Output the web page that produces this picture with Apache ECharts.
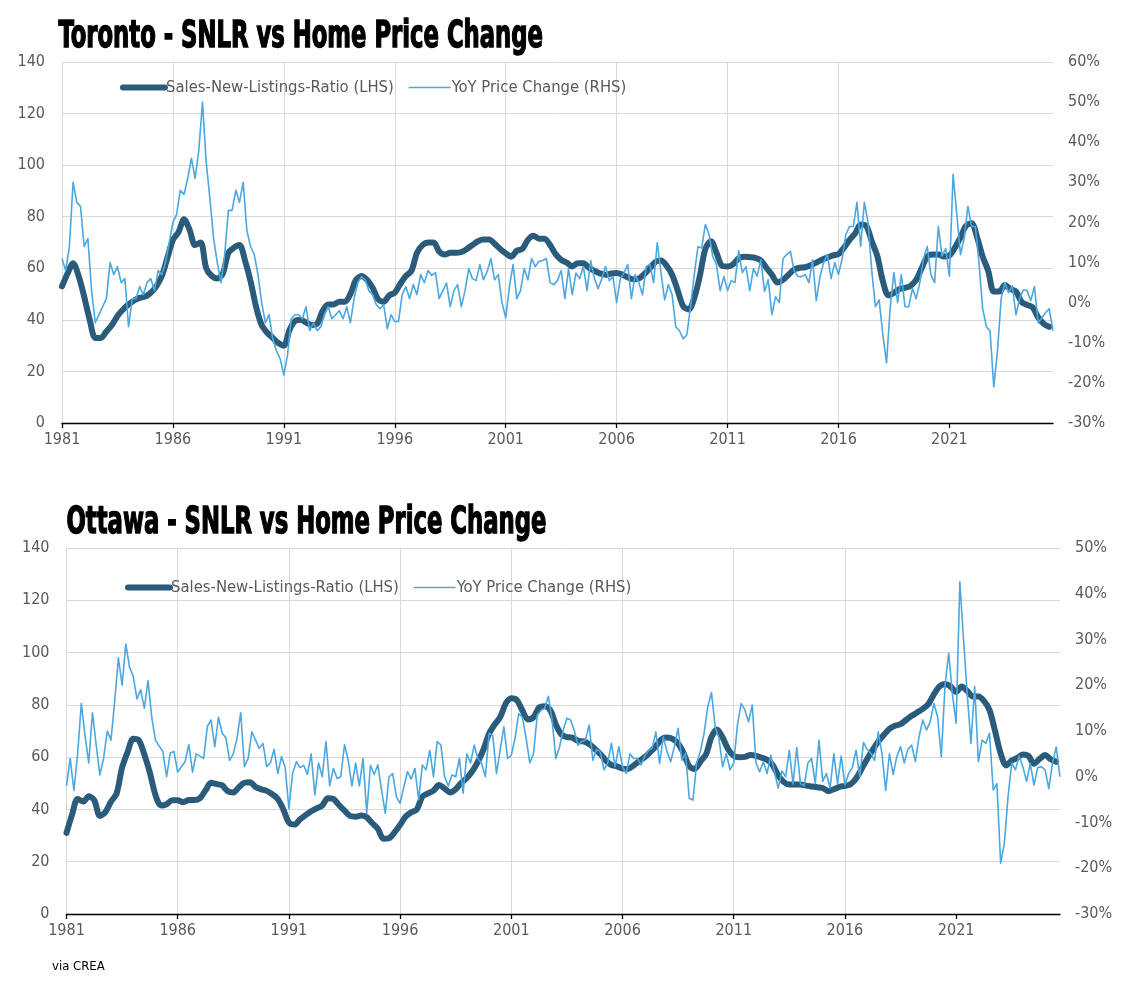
<!DOCTYPE html>
<html>
<head>
<meta charset="utf-8">
<title>SNLR vs Home Price Change</title>
<script src="https://cdn.jsdelivr.net/npm/echarts@6/dist/echarts.min.js"></script>
<style>
  html, body { margin: 0; padding: 0; background: #fff; }
  #chart { width: 1144px; height: 997px; }
</style>
</head>
<body>
<div id="chart"></div>
<script>
const startYear = 1981
const endYear = 2025.67
const yearTicks = [1981, 1986, 1991, 1996, 2001, 2006, 2011, 2016, 2021]
const snlrName = 'Sales-New-Listings-Ratio (LHS)'
const priceName = 'YoY Price Change (RHS)'

// Toronto SNLR, one value per quarter from Q1 1981
const torontoSnlr = [
  53, 58, 62, 57,  49, 40, 33, 33,  35.5, 38, 41.5, 44,  46, 47.5, 48.5, 49,
  50.5, 53, 57, 64,  71, 74, 79, 75,  69, 70, 60, 57,  56, 58, 66, 68,
  69, 63, 55, 45,  38, 35, 33, 31,  30, 36, 39.5, 40,  39, 38, 38.5, 43.5,
  46, 46, 47, 47,  50, 55.5, 57, 55.5,  52.5, 48, 47, 49.5,  50.5, 54, 57, 59,
  66, 69, 70, 70,  66.5, 65.3, 66, 66,  66.3, 67.5, 69, 70.5,  71.2, 71.2, 69.5, 67.5,
  65.8, 64.5, 66.8, 67.5,  71, 72.6, 71.5, 71.5,  69, 65.5, 63.3, 62.2,  60.7, 62, 62, 60.2,
  59, 58, 57.5, 58,  58.2, 57.6, 56.5, 55.7,  56, 57.8, 60, 62.5,  63, 61, 57.5, 51.5,
  45.3, 44, 48.5, 57,  67.5, 70.5, 66, 61,  60.7, 61.5, 63.8, 64.5,  64.3, 64, 63, 60.2,
  57.5, 54.5, 55.5, 57.5,  59.5, 60.2, 60.4, 61.2,  62.2, 63.3, 64.2, 65,  65.5, 68, 71, 73.5,
  77, 76.5, 70.5, 64.8,  55, 49.5, 50.5, 52,  52.4, 53.2, 55.5, 60,  64.5, 65.3, 65.3, 64.6,
  65, 68, 72, 76.5,  77.5, 72, 64.5, 59,  51, 51, 53.5, 52,  51, 47, 45.8, 44.9,
  41, 38.5, 37.3
]

// Toronto YoY price change (%), one value every two months from Jan 1981
const torontoPrice = [
  11, 8, 14, 30, 25, 24,
  14, 16, 3, -5, -3, -1,
  1, 10, 7, 9, 5, 6,
  -6, 1, 1, 4, 2, 5,
  6, 3, 8, 7, 10, 15,
  20, 22, 28, 27, 31, 36,
  31, 38, 50, 35, 26, 16,
  10, 5, 12, 23, 23, 28,
  25, 30, 18, 14, 12, 7,
  0, -5, -3, -9, -12, -14,
  -18, -13, -4, -3, -3, -4,
  -1, -7, -5, -7, -6, -3,
  -1, -4, -3, -2, -4, -1,
  -5, 1, 5, 6.5, 5.7, 3,
  2, -0.5, -1.5, -0.5, -6.5, -3,
  -4.7, -4.7, 2, 4, 1, 4.5,
  2, 7, 5, 8, 6.8, 7.5,
  1, 3, 4.9, -1, 3, 4.5,
  -1, 3, 8.5, 6, 5.5, 9.5,
  5.7, 7.8, 11, 5.7, 7, 0,
  -3.8, 4, 9.5, 1, 3, 8.5,
  5.7, 11, 9, 10.3, 10.5, 11,
  5, 4.5, 5.5, 8, 1, 8.5,
  2, 7.4, 6, 9, 3, 10.5,
  6, 3.5, 6, 9, 5.5, 6.5,
  0, 6, 7.4, 9.5, 1, 7,
  5, 2, 9, 9.5, 5, 15,
  7.4, 0.7, 4.5, 2, -6, -7,
  -9, -8, -1, 7, 14, 13.6,
  19.5, 17, 11.5, 9.5, 3, 6.5,
  3, 5.5, 5, 13, 7.5, 9,
  3, 8.5, 6.6, 10.7, 2.8, 5.7,
  -3, 1.5, 0, 11, 12, 12.8,
  8, 6.6, 6.5, 7, 5, 10.7,
  0.5, 6.5, 10, 12, 6, 10,
  7, 11, 17, 19, 19, 25,
  14, 25, 20, 8, -1, 0.7,
  -8, -15, -1, 7.5, 0, 7,
  -1, -1, 3.5, 1, 5, 11,
  14, 7, 5, 19, 11.6, 13.5,
  6.6, 32, 22, 12, 16, 24,
  19, 19, 10, -1.5, -6, -7.1,
  -21, -12, 1, 5, 2.5, 4.2,
  -3, 1, 3.2, 3, 0.5, 4,
  -5, -3.8, -2.5, -1.5, -7
]

// Ottawa SNLR, one value per quarter from Q1 1981
const ottawaSnlr = [
  31, 38, 44, 43,  45, 43.5, 37.5, 39,  43, 46, 56, 62,  67, 66.5, 61, 54,
  45.5, 41.5, 42, 43.5,  43.5, 42.8, 43.6, 43.6,  44.3, 47.3, 50.2, 49.7,  49.2, 47, 46.5, 48.5,
  50.2, 50.4, 48.6, 47.7,  47.1, 45.8, 44, 40,  35, 34.2, 36.2, 37.8,  39.3, 40.4, 41.5, 44.3,
  44, 41.7, 39.5, 37.5,  37.2, 37.7, 37, 34.7,  32.6, 28.8, 29, 31.2,  34.1, 37.3, 38.9, 40,
  44.9, 46.1, 47.2, 49.3,  48, 46.5, 47.7, 50.2,  52, 54.7, 58.3, 63,  69, 72.5, 75.3, 80.5,
  82.5, 81.8, 77.8, 74.4,  75.3, 79, 79.5, 78,  72.5, 68.7, 67.7, 67.5,  66.2, 66, 65, 63.2,
  61.2, 58.7, 57, 56.5,  55.6, 55.5, 56.8, 58.5,  60, 62, 64.2, 66.8,  67.5, 67, 65.2, 61.5,
  56.5, 55.5, 58.3, 61,  67.7, 70.6, 67.5, 63,  60.5, 60, 60.1, 60.8,  60.5, 59.8, 59, 57,
  53, 50.5, 49.5, 49.5,  49.5, 49.1, 48.8, 48.5,  48.2, 47, 47.7, 48.6,  49, 49.6, 51.8, 55.5,
  59.3, 62.8, 66, 68.5,  70.8, 72, 72.6, 74.2,  75.8, 77.1, 78.5, 80.3,  84, 87, 88, 87,
  85, 87, 85.3, 83.2,  83.2, 81.5, 78, 70,  61.5, 56.8, 58.7, 59.7,  61, 60.5, 57.5, 59.3,
  60.8, 59.2, 58.2
]

// Ottawa YoY price change (%), one value every two months from Jan 1981
const ottawaPrice = [
  -2, 4, -3, 5, 16, 9,
  3, 14, 7, 0.4, 4, 10,
  8, 16.5, 26, 20, 29, 24,
  22, 17, 19, 15, 21, 13,
  8, 6.7, 5.5, 0, 5.2, 5.5,
  1, 2.2, 3.3, 7, 1, 5,
  4.5, 4, 11, 12.4, 6.6, 13,
  9.5, 8.5, 3.6, 5, 8.4, 14,
  2.2, 4, 9.8, 8, 6.2, 7.3,
  2.2, 3, 6, 0.7, 4.4, 2,
  -7, 0.7, 3.3, 2, 2.5, 0.5,
  5, -4, 3, 0, 7.7, -2,
  1.8, -0.4, 0, 7, 3.6, -2,
  3, -2, 4, -8, 2.5, 0.5,
  2.6, -2.9, -8, 0, 0.7, -4.4,
  -5.8, -2.2, 1.1, -0.5, 1.8, -5,
  2.6, 1.5, 5.8, 0, 7.7, 6.9,
  0, -2, 0.4, 0, 4, -3.6,
  5, 3, 6.9, 4, 2.9, 0,
  9.5, 9, 0.7, 6, 10.9, 4,
  4.7, 8.4, 13.8, 13, 8.4, 3,
  5.1, 13.5, 14.5, 15, 17.6, 12.4,
  4, 6.5, 10.2, 12.8, 12.4, 10,
  6.9, 7.7, 8, 11.3, 3.6, 6,
  5.5, 1.5, 3, 7.3, 2.2, 6.6,
  2.2, 0.7, 5, 4, 4, 2.6,
  4.5, 5.8, 6.2, 9.8, 2.9, 8.7,
  5.5, 3.3, 6.6, 10.6, 3.6, 5.1,
  -4.7, -5.1, 3, 5.5, 9.5, 15.3,
  18.4, 10.9, 8.5, 2.2, 5.1, 1.5,
  3, 11.3, 16, 14.6, 12, 15.7,
  3, 1.1, 3.3, 0.7, 4.7, 1,
  -2.5, 1.3, 0, 5.8, -1.6, 6.4,
  -1.5, -2, 3, 4, -1.5, 8,
  -1, 0.7, -2.5, 5, -1.5, 4.5,
  -1.8, 0.7, 2, 5.8, 0, 7.5,
  6, 5.1, 3.6, 9.8, 5, -3,
  5, 0.5, 4.4, 6.6, 3, 6,
  6.9, 3.3, 8.7, 12.4, 10.2, 12,
  16, 13.1, 4.4, 20, 27, 18,
  11.7, 42.6, 29.9, 18, 7.3, 19.7,
  3.3, 8, 7.3, 9.5, -2.9, -1.5,
  -18.9, -14.6, -4.4, 3, 1.5, 4.5,
  2.2, -1, 2.9, -1.8, 2, 2.2,
  1.5, -2.6, 3, 6.5, 0
]

const font = "'DejaVu Sans Condensed', 'Liberation Sans', sans-serif"
const darkBlue = '#2B5B7B'
const lightBlue = '#4BA7E0'
const gridColor = '#D9D9D9'
const labelColor = '#595959'

function toPoints(values, step) {
  return values.map((v, i) => [startYear + i * step, v])
}

function xAxis(gridIndex) {
  return {
    type: 'value',
    gridIndex: gridIndex,
    min: startYear,
    max: endYear,
    interval: 5,
    axisLine: { show: true, onZero: false, lineStyle: { color: '#000', width: 1.3 } },
    axisTick: { show: true, length: 5, customValues: yearTicks, lineStyle: { color: '#000', width: 1.3 } },
    axisLabel: {
      customValues: yearTicks,
      color: labelColor, fontFamily: font, fontSize: 16, margin: 9,
      formatter: v => (yearTicks.indexOf(v) >= 0 ? String(v) : '')
    },
    splitLine: { show: true, showMaxLine: false, lineStyle: { color: gridColor, width: 1 } }
  }
}

function leftAxis(gridIndex) {
  return {
    type: 'value',
    gridIndex: gridIndex,
    position: 'left',
    min: 0, max: 140, interval: 20,
    axisLine: { show: false },
    axisTick: { show: false },
    axisLabel: { color: labelColor, fontFamily: font, fontSize: 16, margin: 17 },
    splitLine: { show: true, lineStyle: { color: gridColor, width: 1 } }
  }
}

function rightAxis(gridIndex, max) {
  return {
    type: 'value',
    gridIndex: gridIndex,
    position: 'right',
    min: -30, max: max, interval: 10,
    axisLine: { show: false },
    axisTick: { show: false },
    axisLabel: { color: labelColor, fontFamily: font, fontSize: 16, margin: 15, formatter: '{value}%' },
    splitLine: { show: false }
  }
}

function legend(left, top) {
  return {
    left: left, top: top,
    itemWidth: 42, itemHeight: 14, itemGap: 14,
    textStyle: { color: labelColor, fontFamily: font, fontSize: 16.5, padding: [0, 0, 0, -4] },
    itemStyle: { opacity: 0 },
    data: [
      { name: snlrName, itemStyle: { opacity: 0 }, lineStyle: { width: 6, color: darkBlue, cap: 'round' } },
      { name: priceName, itemStyle: { opacity: 0 }, lineStyle: { width: 1.6, color: lightBlue } }
    ]
  }
}

function snlrSeries(values, axisIndex) {
  return {
    name: snlrName, type: 'line', xAxisIndex: axisIndex, yAxisIndex: axisIndex * 2,
    data: toPoints(values, 0.25),
    symbol: 'none', smooth: 0.3,
    lineStyle: { color: darkBlue, width: 6, cap: 'round', join: 'round' },
    itemStyle: { color: darkBlue }
  }
}

function priceSeries(values, axisIndex) {
  return {
    name: priceName, type: 'line', xAxisIndex: axisIndex, yAxisIndex: axisIndex * 2 + 1,
    data: toPoints(values, 1 / 6),
    symbol: 'none',
    lineStyle: { color: lightBlue, width: 1.6, join: 'round' },
    itemStyle: { color: lightBlue }
  }
}

// condensed heavy title: squeeze the bold face horizontally, stretch it a little vertically
function title(text, x, y) {
  return {
    type: 'text', left: x, top: y, scaleX: 0.79, scaleY: 1.15,
    style: { text: text, font: 'bold 32px ' + font, fill: '#000', stroke: '#000', lineWidth: 1.2 }
  }
}

const chart = echarts.init(document.getElementById('chart'))
chart.setOption({
  animation: false,
  backgroundColor: '#fff',
  graphic: [
    title('Toronto - SNLR vs Home Price Change', 58, 18),
    title('Ottawa - SNLR vs Home Price Change', 66, 504),
    { type: 'text', left: 52, top: 960, style: { text: 'via CREA', font: '13px ' + font, fill: '#000' } }
  ],
  legend: [legend(115, 74), legend(120, 574)],
  grid: [
    { left: 62, top: 62, width: 991, height: 361 },
    { left: 66.5, top: 548, width: 993.5, height: 366 }
  ],
  xAxis: [xAxis(0), xAxis(1)],
  yAxis: [leftAxis(0), rightAxis(0, 60), leftAxis(1), rightAxis(1, 50)],
  series: [
    snlrSeries(torontoSnlr, 0),
    priceSeries(torontoPrice, 0),
    snlrSeries(ottawaSnlr, 1),
    priceSeries(ottawaPrice, 1)
  ]
})
</script>
</body>
</html>
